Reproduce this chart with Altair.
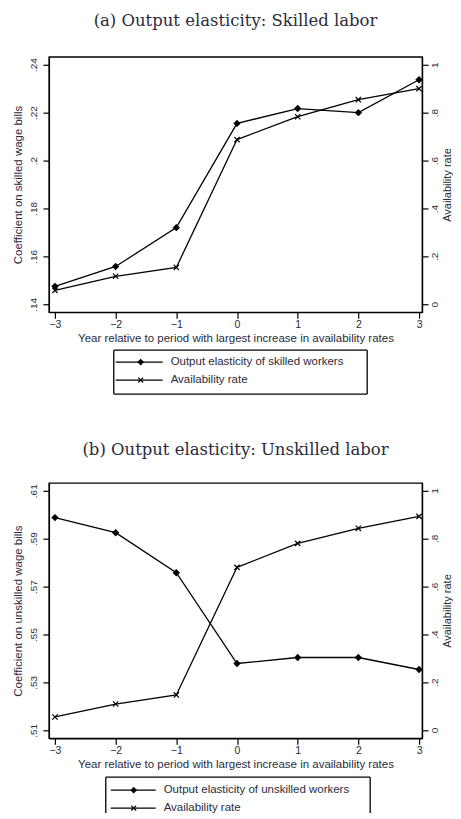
import altair as alt
import pandas as pd

# ---------------- data ----------------
years = [-3, -2, -1, 0, 1, 2, 3]

skilled_elast = [0.1475, 0.1558, 0.1720, 0.2155, 0.2217, 0.2200, 0.2337]
avail_a = [0.058, 0.117, 0.154, 0.6875, 0.783, 0.854, 0.900]

unskilled_elast = [0.5988, 0.5925, 0.5758, 0.5379, 0.5404, 0.5404, 0.5354]
avail_b = [0.054, 0.108, 0.146, 0.679, 0.779, 0.842, 0.892]

left_ticks_a = [0.14, 0.16, 0.18, 0.20, 0.22, 0.24]
left_ticks_b = [0.51, 0.53, 0.55, 0.57, 0.59, 0.61]
right_ticks = [0, 0.2, 0.4, 0.6, 0.8, 1]

title_a = "(a) Output elasticity: Skilled labor"
title_b = "(b) Output elasticity: Unskilled labor"
ytitle_a = "Coefficient on skilled wage bills"
ytitle_b = "Coefficient on unskilled wage bills"
xtitle = "Year relative to period with largest increase in availability rates"
legend_a = ["Output elasticity of skilled workers", "Availability rate"]
legend_b = ["Output elasticity of unskilled workers", "Availability rate"]

XPATH = "M-1,-1L1,1M-1,1L1,-1"
TXT = "#2b2b3b"
SANS = "Liberation Sans"
PLOT_W = 374
PLOT_H = 256

LABEL_EXPR = ("datum.value == 0 ? '0' : datum.value == 1 ? '1' : "
              "slice(format(datum.value, '.2~f'), 1)")


def panel(title, title_offset, elast, avail, ytitle, lticks, ldom, rdom,
          leg_labels, leg_h, leg_dom, box, closed, line_x, mark_x, text_x, gap):
    df = pd.DataFrame({"year": years, "elast": elast, "avail": avail})
    x = alt.X(
        "year:Q",
        scale=alt.Scale(domain=[-3.1, 3.05], nice=False, zero=False),
        axis=alt.Axis(values=years, format="d", title=xtitle, labelFontSize=10.5,
                      titleFontSize=11.5, titlePadding=3, labelPadding=1,
                      titleFontWeight="normal"),
    )
    yl = alt.Y(
        "elast:Q",
        scale=alt.Scale(domain=ldom, nice=False, zero=False),
        axis=alt.Axis(orient="left", values=lticks, labelExpr=LABEL_EXPR, title=ytitle,
                      labelAngle=-90, labelAlign="center", labelBaseline="bottom",
                      labelPadding=4, titlePadding=5, titleFontSize=11.5, labelFontSize=10,
                      titleFontWeight="normal"),
    )
    yr = alt.Y(
        "avail:Q",
        scale=alt.Scale(domain=rdom, nice=False, zero=False),
        axis=alt.Axis(orient="right", values=right_ticks, labelExpr=LABEL_EXPR,
                      title="Availability rate", titleAngle=270, titleBaseline="top",
                      labelAngle=-90, labelAlign="center", labelBaseline="top",
                      labelPadding=1, titlePadding=2, titleFontSize=11, labelFontSize=10,
                      titleFontWeight="normal"),
    )
    base = alt.Chart(df)
    l_line = base.mark_line(color="black", strokeWidth=1.3).encode(x=x, y=yl)
    l_pts = base.mark_point(shape="diamond", filled=True, color="black", size=55,
                            opacity=1).encode(x=x, y=yl)
    r_line = base.mark_line(color="black", strokeWidth=1.3).encode(x=x, y=yr)
    r_pts = base.mark_point(shape=XPATH, filled=False, color="black", size=28,
                            strokeWidth=1.2, opacity=1).encode(x=x, y=yr)
    plot = alt.layer(alt.layer(l_line, l_pts), alt.layer(r_line, r_pts)).resolve_scale(
        y="independent"
    ).properties(
        width=PLOT_W, height=PLOT_H,
        title=alt.TitleParams(title, font="DejaVu Serif", fontSize=16.5, fontWeight="normal",
                              color=TXT, anchor="middle", offset=title_offset),
    )

    ldf = pd.DataFrame({"row": [0, 1], "label": leg_labels})
    ly = alt.Y("row:Q", scale=alt.Scale(domain=leg_dom, reverse=True, nice=False, zero=False),
               axis=None)
    lb = alt.Chart(ldf)
    one = lb.transform_filter("datum.row == 0")
    frame_style = dict(color="black", strokeWidth=1.3)
    frame = [
        one.mark_rule(**frame_style).encode(x=alt.value(box[0]), x2=alt.value(box[1]),
                                            y=alt.value(0)),
        one.mark_rule(**frame_style).encode(x=alt.value(box[0]), y=alt.value(0),
                                            y2=alt.value(box[2])),
        one.mark_rule(**frame_style).encode(x=alt.value(box[1]), y=alt.value(0),
                                            y2=alt.value(box[2])),
    ]
    if closed:
        frame.append(one.mark_rule(**frame_style).encode(
            x=alt.value(box[0]), x2=alt.value(box[1]), y=alt.value(box[2])))
    rule = lb.mark_rule(color="black", strokeWidth=1.3).encode(
        x=alt.value(line_x[0]), x2=alt.value(line_x[1]), y=ly)
    pd_ = one.mark_point(
        shape="diamond", filled=True, color="black", size=45, opacity=1).encode(
        x=alt.value(mark_x), y=ly)
    px_ = lb.transform_filter("datum.row == 1").mark_point(
        shape=XPATH, filled=False, color="black", size=24, strokeWidth=1.2, opacity=1).encode(
        x=alt.value(mark_x), y=ly)
    txt = lb.mark_text(align="left", baseline="middle", font=SANS, fontSize=11.5,
                       color=TXT).encode(x=alt.value(text_x), y=ly, text="label:N")
    legend = alt.layer(*frame, rule, pd_, px_, txt).properties(
        width=PLOT_W, height=leg_h, view=alt.ViewBackground(stroke=None))

    return alt.vconcat(plot, legend, spacing=gap)


top = panel(title_a, 27, skilled_elast, avail_a, ytitle_a, left_ticks_a,
            [0.1367, 0.2433], [-0.033, 1.033], legend_a, 44, [-0.667, 1.778],
            (65, 319, 44), True, (67, 114), 92, 122, 4)
bottom = panel(title_b, 24, unskilled_elast, avail_b, ytitle_b, left_ticks_b,
               [0.5067, 0.6133], [-0.035, 1.032], legend_b, 36, [-0.722, 1.278],
               (57, 322, 36), False, (62, 107), 85, 115, 5)

chart = alt.vconcat(top, bottom, spacing=46).properties(
    padding={"left": 4, "top": 3, "right": 0, "bottom": 0},
    background="white",
).configure_view(
    stroke="black", strokeWidth=1.3
).configure_axis(
    grid=False, domainColor="black", domainWidth=1.3, tickColor="black", tickWidth=1.2,
    tickSize=6, labelColor=TXT, titleColor=TXT, labelFont=SANS, titleFont=SANS,
    titleFontWeight="normal"
)

chart.save("out.html", embed_options={"renderer": "svg", "actions": False})
